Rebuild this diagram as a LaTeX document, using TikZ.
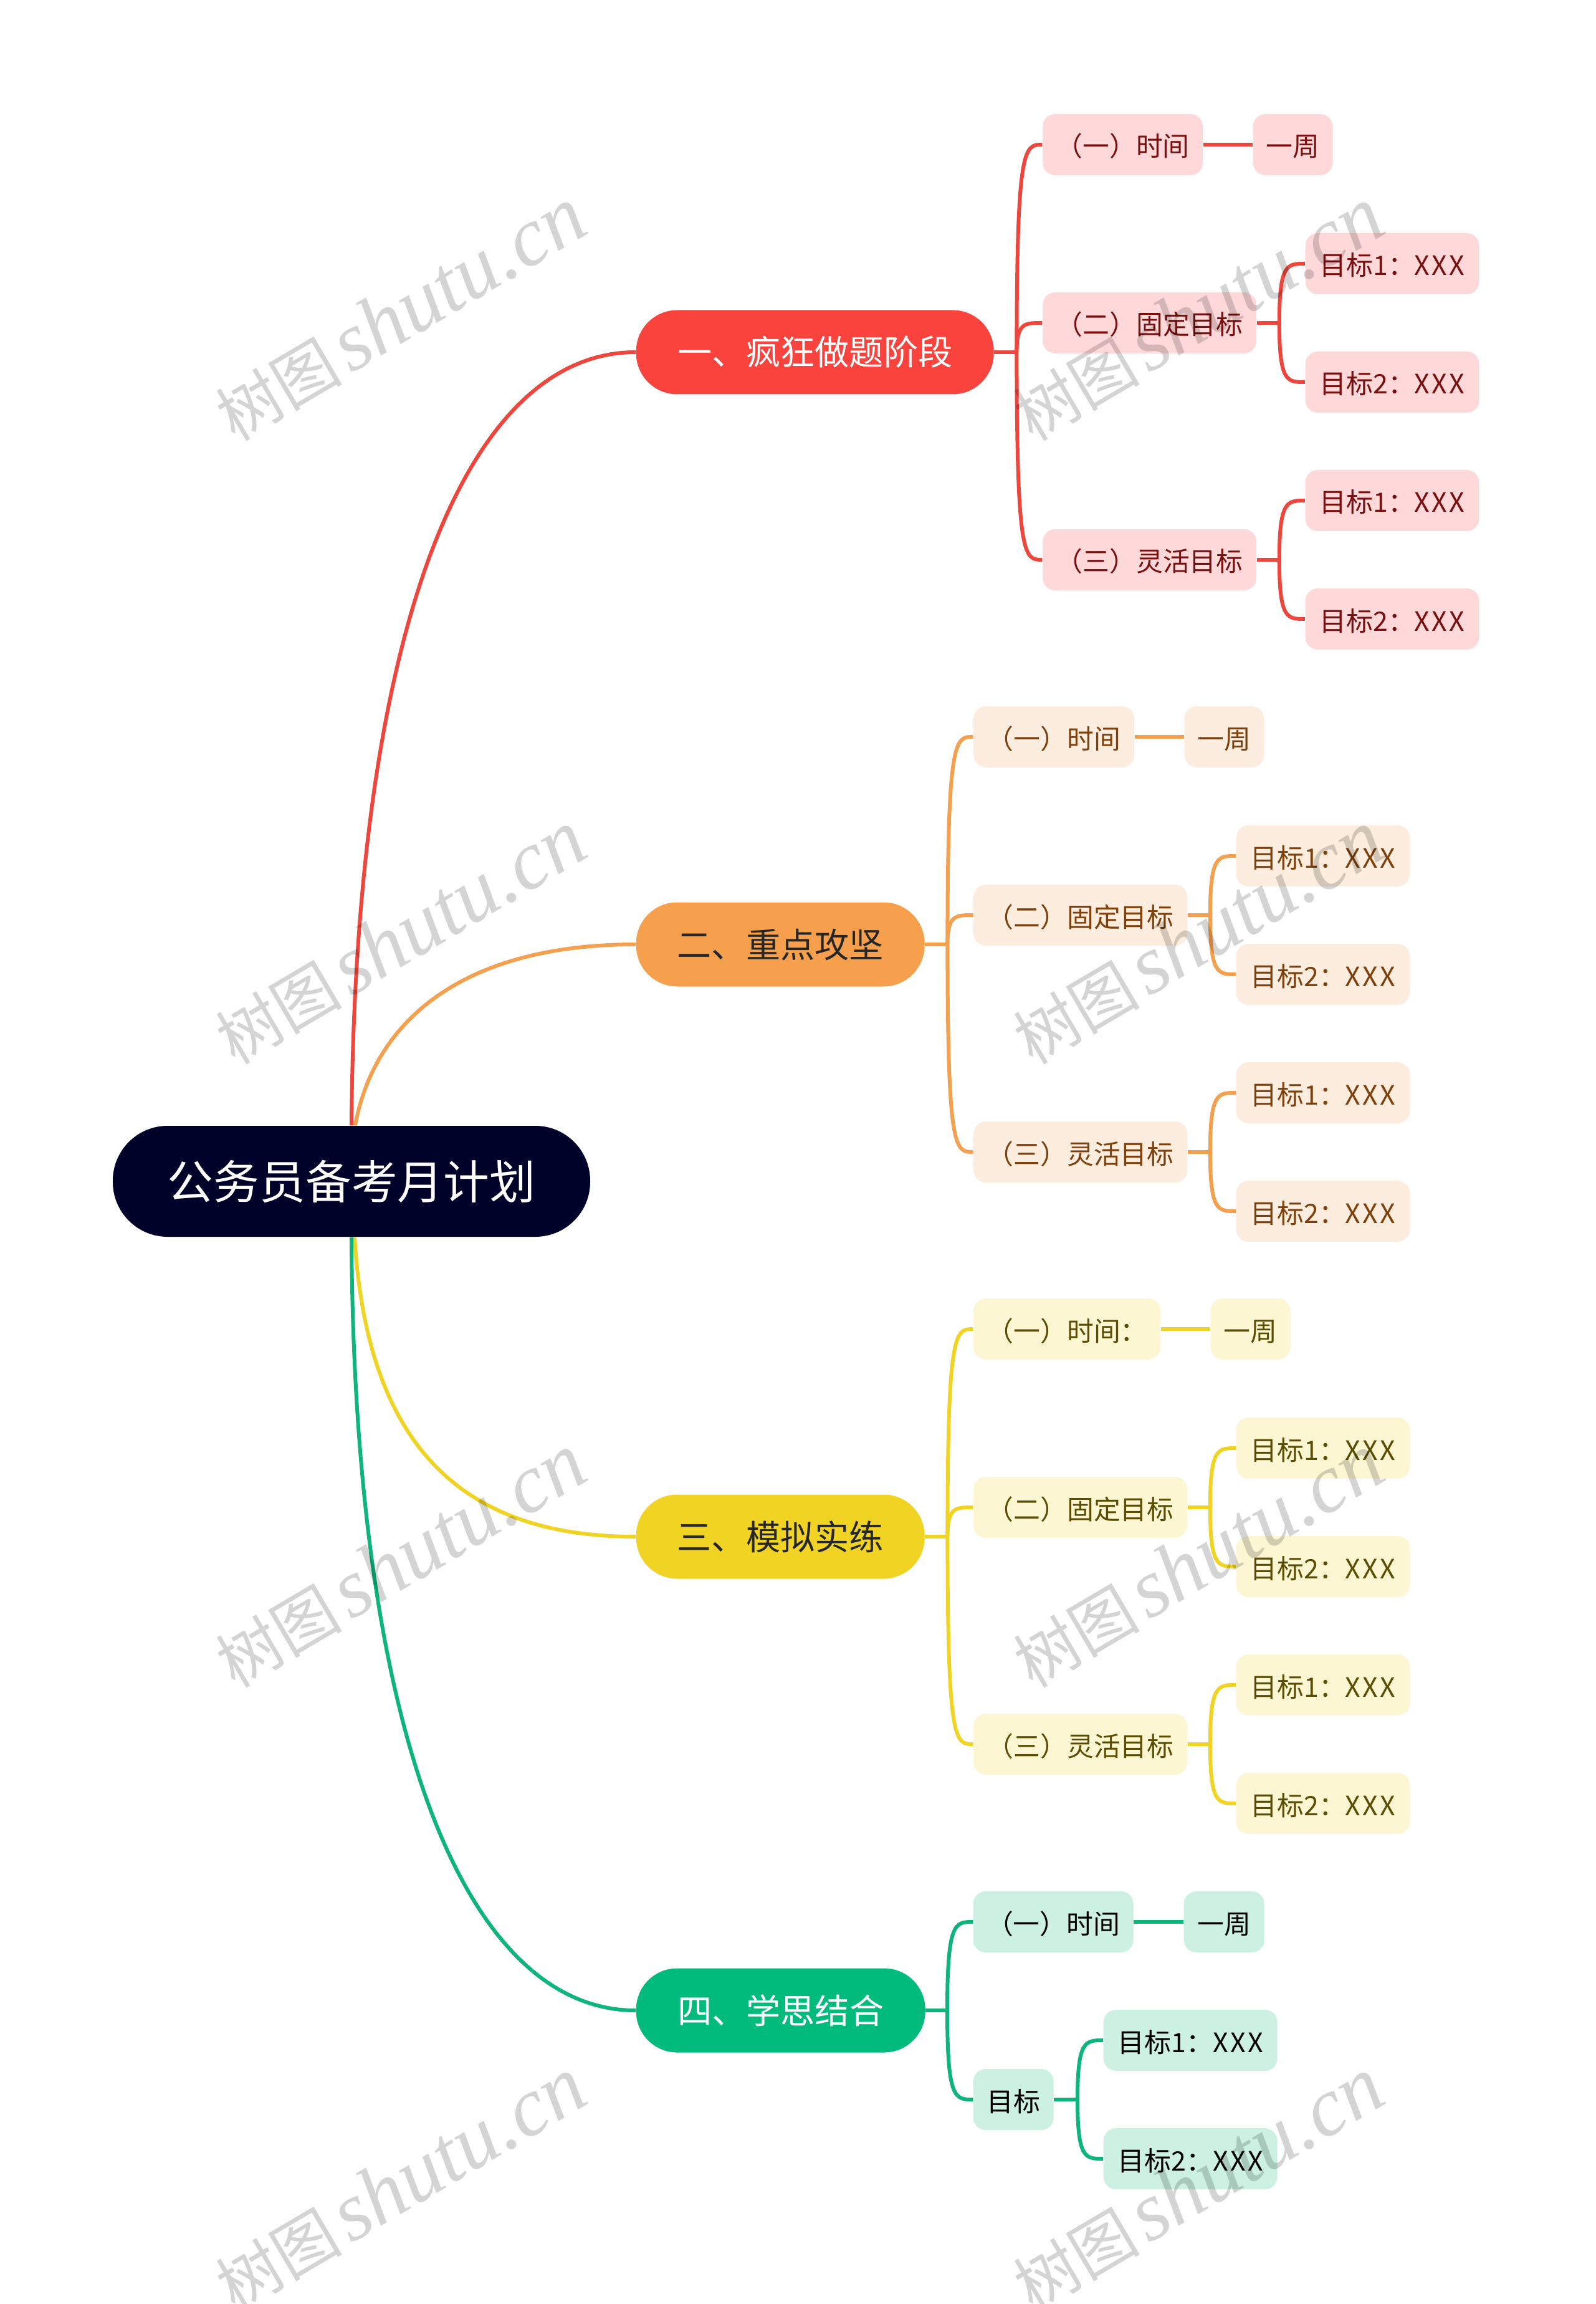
\documentclass[tikz,border=0pt]{standalone}
\usepackage{fontspec}
\setmainfont{Noto Sans CJK SC}
\newfontfamily\markcjk{Noto Sans CJK SC}
\newfontfamily\marklatin{Liberation Serif}
\usetikzlibrary{calc}

\definecolor{rootdark}{HTML}{000229}
\definecolor{lineA}{HTML}{EE453C}
\definecolor{pillA}{HTML}{FA433C}
\definecolor{softA}{HTML}{FFD9D9}
\definecolor{inkA}{HTML}{7A0F0F}
\definecolor{headA}{HTML}{FFFFFF}
\definecolor{lineB}{HTML}{F4A04F}
\definecolor{pillB}{HTML}{F6A04D}
\definecolor{softB}{HTML}{FCEDDE}
\definecolor{inkB}{HTML}{7F3F0A}
\definecolor{headB}{HTML}{262626}
\definecolor{lineC}{HTML}{F1D423}
\definecolor{pillC}{HTML}{F1D423}
\definecolor{softC}{HTML}{FCF6D3}
\definecolor{inkC}{HTML}{5A4C00}
\definecolor{headC}{HTML}{262626}
\definecolor{lineD}{HTML}{0DB57A}
\definecolor{pillD}{HTML}{00BB7B}
\definecolor{softD}{HTML}{CCF1E3}
\definecolor{inkD}{HTML}{000000}
\definecolor{headD}{HTML}{FFFFFF}

\newcommand{\goaltext}[1]{目标#1：{\addfontfeature{LetterSpace=8}XXX}}

\tikzset{
  rootpill/.style={fill=rootdark, text=white, rounded corners=0.88cm, minimum width=7.66cm,
    minimum height=1.78cm, inner sep=0pt, text height=0.68cm, text depth=0.12cm,
    font=\fontsize{21}{24}\selectfont},
  pill/.style={fill=pill#1, text=head#1, anchor=west, rounded corners=0.66cm, minimum height=1.35cm,
    inner sep=0pt, text height=0.51cm, text depth=0.09cm, font=\fontsize{15.7}{18}\selectfont},
  leaf/.style={fill=soft#1, text=ink#1, anchor=west, rounded corners=0.2cm, minimum height=0.98cm,
    inner sep=0pt, text height=0.44cm, text depth=0.06cm, font=\fontsize{12.2}{14}\selectfont},
  wire/.style={draw=line#1, line width=0.06cm},
  arc link/.style={to path={.. controls (\tikztostart |- \tikztotarget)
    and ($(\tikztotarget)!0.7!(\tikztostart |- \tikztotarget)$) .. (\tikztotarget)}},
}

\begin{document}
\begin{tikzpicture}[x=1cm, y=-1cm]
    \useasboundingbox (0, 0) rectangle (25.6, 36.96);

    \node[rootpill] (root) at (5.64, 18.95) {公务员备考月计划};
    \coordinate (rootup) at ($(root.north)+(0.06, 0)$);
    \coordinate (rootdown) at ($(root.south)+(0.05, 0)$);

    % three blocks of the same form
    \foreach \i/\tone/\ymid/\pillw/\headline/\timew/\timelabel in {
        1/A/5.65/5.74/一、疯狂做题阶段/2.57/（一）时间,
        2/B/15.15/4.63/二、重点攻坚/2.58/（一）时间,
        3/C/24.65/4.63/三、模拟实练/3.00/（一）时间：} {
      \node[pill=\tone, minimum width=\pillw cm] (b\i) at (10.2, \ymid) {\headline};
      \coordinate (t\i) at ($(b\i.east)+(0.36, 0)$);

      \node[leaf=\tone, minimum width=\timew cm] (time\i) at ($(t\i)+(0.41, -3.33)$) {\timelabel};
      \node[leaf=\tone, minimum width=1.28cm] (week\i) at ($(time\i.east)+(0.79, 0)$) {一周};
      \node[leaf=\tone, minimum width=3.43cm] (fix\i) at ($(t\i)+(0.41, -0.47)$) {（二）固定目标};
      \node[leaf=\tone, minimum width=3.43cm] (flex\i) at ($(t\i)+(0.41, 3.33)$) {（三）灵活目标};
      \coordinate (s\i) at ($(fix\i.east)+(0.36, 0)$);
      \coordinate (r\i) at ($(flex\i.east)+(0.36, 0)$);
      \node[leaf=\tone, minimum width=2.79cm] (fixa\i) at ($(s\i)+(0.41, -0.95)$) {\goaltext{1}};
      \node[leaf=\tone, minimum width=2.79cm] (fixb\i) at ($(s\i)+(0.41, 0.95)$) {\goaltext{2}};
      \node[leaf=\tone, minimum width=2.79cm] (flexa\i) at ($(r\i)+(0.41, -0.95)$) {\goaltext{1}};
      \node[leaf=\tone, minimum width=2.79cm] (flexb\i) at ($(r\i)+(0.41, 0.95)$) {\goaltext{2}};

      \draw[wire=\tone] (b\i.east) -- (t\i);
      \draw[wire=\tone] (t\i) to[arc link] (time\i.west);
      \draw[wire=\tone] (t\i) to[arc link] (fix\i.west);
      \draw[wire=\tone] (t\i) to[arc link] (flex\i.west);
      \draw[wire=\tone] (time\i.east) -- (week\i.west);
      \draw[wire=\tone] (fix\i.east) -- (s\i);
      \draw[wire=\tone] (flex\i.east) -- (r\i);
      \draw[wire=\tone] (s\i) to[arc link] (fixa\i.west);
      \draw[wire=\tone] (s\i) to[arc link] (fixb\i.west);
      \draw[wire=\tone] (r\i) to[arc link] (flexa\i.west);
      \draw[wire=\tone] (r\i) to[arc link] (flexb\i.west);
    }

    % the last block is shorter
    \node[pill=D, minimum width=4.64cm] (b4) at (10.2, 32.25) {四、学思结合};
    \coordinate (t4) at (15.2, 32.25);
    \node[leaf=D, minimum width=2.57cm] (time4) at (15.61, 30.83) {（一）时间};
    \node[leaf=D, minimum width=1.29cm] (week4) at (18.99, 30.83) {一周};
    \node[leaf=D, minimum width=1.29cm] (goal4) at (15.61, 33.68) {目标};
    \coordinate (s4) at (17.29, 33.68);
    \node[leaf=D, minimum width=2.79cm] (goala4) at (17.7, 32.73) {\goaltext{1}};
    \node[leaf=D, minimum width=2.79cm] (goalb4) at (17.7, 34.63) {\goaltext{2}};

    \draw[wire=D] (b4.east) -- (t4);
    \draw[wire=D] (t4) to[arc link] (time4.west);
    \draw[wire=D] (t4) to[arc link] (goal4.west);
    \draw[wire=D] (time4.east) -- (week4.west);
    \draw[wire=D] (goal4.east) -- (s4);
    \draw[wire=D] (s4) to[arc link] (goala4.west);
    \draw[wire=D] (s4) to[arc link] (goalb4.west);

    \draw[wire=A] (root.north) .. controls (5.7, 10) and (7.5, 5.65) .. (b1.west);
    \draw[wire=B] (rootup) .. controls (6, 16.4) and (7.4, 15.15) .. (b2.west);
    \draw[wire=C] (rootdown) .. controls (5.9, 23.4) and (7.6, 24.65) .. (b3.west);
    \draw[wire=D] (root.south) .. controls (5.68, 27.91) and (7.5, 32.25) .. (b4.west);

    % watermark over everything
    \foreach \mx/\side in {6.42/l, 19.22/r} {
      \foreach \my/\k in {5.04/a, 15.04/b, 25.04/c, 35.04/d} {
        \node[rotate=30.5, text=black, text opacity=0.17, inner sep=0pt] (mark\side\k) at (\mx, \my)
          {{\markcjk\fontsize{29}{36}\selectfont 树图}\hspace{0.12cm}{\marklatin\itshape\fontsize{38}{36}\selectfont shutu.cn}};
      }
    }
\end{tikzpicture}
\end{document}
